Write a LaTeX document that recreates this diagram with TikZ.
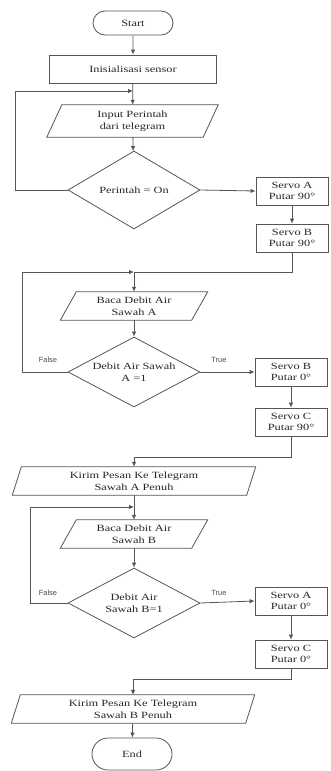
\documentclass[tikz,border=0pt]{standalone}
\usepackage{fontspec}
\setmainfont{Liberation Serif}[FakeStretch=1.3]
\newfontfamily\lblfont{Liberation Sans}
\usetikzlibrary{shapes.geometric,shapes.misc,arrows.meta}
\definecolor{lc}{HTML}{555555}
\newcommand\ioframe[2]{\draw[ln] ([xshift=#2]#1.north west) -- ([xshift=#2]#1.north east) -- ([xshift=-#2]#1.south east) -- ([xshift=-#2]#1.south west) -- cycle;}
\begin{document}
\begin{tikzpicture}[x=1pt,y=-1pt,
 every node/.style={font=\fontsize{9.5}{11.5}\selectfont, align=center, inner sep=0pt, text=black!85},
 ln/.style={draw=lc, line width=0.8pt},
 arr/.style={ln, -{Latex[length=5pt,width=4.5pt]}},
 term/.style={rounded rectangle, draw=lc, line width=0.8pt, minimum width=80},
 proc/.style={rectangle, draw=lc, line width=0.8pt, minimum width=72, minimum height=28},
 dec/.style={diamond, draw=lc, line width=0.8pt, minimum width=132, aspect=1.8},
 io/.style={rectangle, minimum width=#1, minimum height=28},
 lbl/.style={font=\lblfont\fontsize{7.5}{9}\selectfont, text=black!70}
]
\useasboundingbox (0,0) rectangle (331,771);

\node[term, minimum height=24] (start) at (133,23) {Start};
\node[proc, minimum width=167] (init) at (133,69) {Inisialisasi sensor};
\node[io=156, minimum height=32] (p1) at (132.5,121) {Input Perintah\\dari telegram};
\node[dec, minimum height=78] (d1) at (134,190) {Perintah = On};
\node[proc] (sa1) at (292,191) {Servo A\\Putar 90°};
\node[proc] (sb1) at (292,238) {Servo B\\Putar 90°};

\node[io=131] (p2) at (134,306) {Baca Debit Air\\Sawah A};
\node[dec, minimum height=70] (d2) at (134,372) {Debit Air Sawah\\A =1};
\node[proc] (sb2) at (291,372) {Servo B\\Putar 0°};
\node[proc] (sc1) at (291,422) {Servo C\\Putar 90°};
\node[lbl] (f1) at (48,360) {False};
\node[lbl] (t1) at (219,360) {True};

\node[io=234] (p3) at (134,481) {Kirim Pesan Ke Telegram\\Sawah A Penuh};
\node[io=131] (p4) at (134,534) {Baca Debit Air\\Sawah B};
\node[dec, minimum height=70] (d3) at (134,603) {Debit Air\\Sawah B=1};
\node[proc] (sa2) at (291,601) {Servo A\\Putar 0°};
\node[proc] (sc2) at (291,654) {Servo C\\Putar 0°};
\node[lbl] (f2) at (48,593) {False};
\node[lbl] (t2) at (219,593) {True};

\node[io=234] (p5) at (133,709) {Kirim Pesan Ke Telegram\\Sawah B Penuh};
\node[term, minimum height=32] (end) at (132,754) {End};

\ioframe{p1}{7.5}
\ioframe{p2}{8}
\ioframe{p3}{4.5}
\ioframe{p4}{8}
\ioframe{p5}{4.5}

\coordinate (j1) at (133,91);
\coordinate (l1) at (15,91);
\coordinate (j2) at (134,272);
\coordinate (l2) at (22,272);
\coordinate (j3) at (134,457);
\coordinate (j4) at (134,507);
\coordinate (l4) at (30,507);
\coordinate (j5) at (133,679);

\draw[arr] (start) -- (init);
\draw[arr] (init) -- (p1);
\draw[arr] (d1.west) -| (l1) -- (j1);
\draw[arr] (p1) -- (d1);
\draw[arr] (d1.east) -- (sa1.west);
\draw[arr] (sa1) -- (sb1);
\draw[ln] (sb1.south) |- (j2);
\draw[arr] (j2) -- (p2);
\draw[arr] (d2.west) -| (l2) -- (j2);
\draw[arr] (p2) -- (d2);
\draw[arr] (d2.east) -- (sb2.west);
\draw[arr] (sb2) -- (sc1);
\draw[ln] (sc1.south) |- (j3);
\draw[arr] (j3) -- (p3);
\draw[arr] (p3) -- (p4);
\draw[arr] (d3.west) -| (l4) -- (j4);
\draw[arr] (p4) -- (d3);
\draw[arr] (d3.east) -- (sa2.west);
\draw[arr] (sa2) -- (sc2);
\draw[ln] (sc2.south) |- (j5);
\draw[arr] (j5) -- (p5);
\draw[arr] (p5) -- (end);
\end{tikzpicture}
\end{document}
